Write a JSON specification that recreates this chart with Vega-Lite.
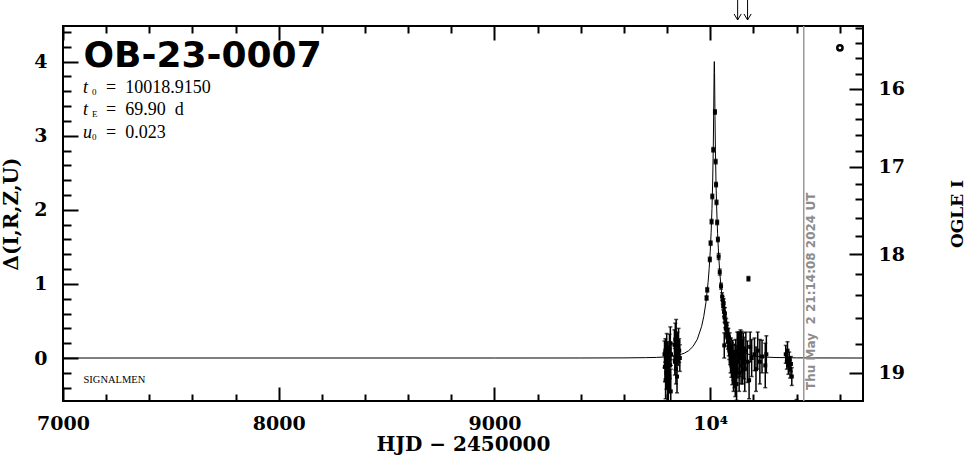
{
  "$schema": "https://vega.github.io/schema/vega-lite/v6.json",
  "width": 800,
  "height": 375,
  "autosize": "none",
  "padding": {"left": 63, "top": 26, "right": 103, "bottom": 58},
  "background": "white",
  "config": {
    "view": {"stroke": "black", "strokeWidth": 2},
    "axis": {
      "domain": false, "grid": false, "tickColor": "black", "tickWidth": 2,
      "labelColor": "black", "titleColor": "black",
      "labelFont": "DejaVu Serif", "labelFontWeight": "bold", "labelFontSize": 19,
      "titleFont": "DejaVu Serif", "titleFontWeight": "bold", "titleFontSize": 20,
      "labelOverlap": false, "labelFlush": false, "labelBound": false
    }
  },
  "datasets": {
    "model": [
      {"t":7000,"d":0},{"t":9000,"d":0.0001},{"t":9400,"d":0.0004},{"t":9600,"d":0.0017},
      {"t":9700,"d":0.005},{"t":9750,"d":0.008},{"t":9800,"d":0.016},{"t":9850,"d":0.036},
      {"t":9880,"d":0.065},{"t":9900,"d":0.099},{"t":9920,"d":0.156},{"t":9940,"d":0.253},
      {"t":9960,"d":0.426},{"t":9970,"d":0.561},{"t":9980,"d":0.749},{"t":9990,"d":1.021},
      {"t":9995,"d":1.205},{"t":10000,"d":1.44},{"t":10004,"d":1.69},{"t":10008,"d":2.015},
      {"t":10011,"d":2.348},{"t":10014,"d":2.829},{"t":10016,"d":3.306},{"t":10017,"d":3.617},
      {"t":10018,"d":3.9},{"t":10018.9,"d":4.0},{"t":10020,"d":3.85},{"t":10021,"d":3.561},
      {"t":10022,"d":3.259},{"t":10024,"d":2.796},{"t":10027,"d":2.327},{"t":10030,"d":1.998},
      {"t":10034,"d":1.678},{"t":10039,"d":1.384},{"t":10044,"d":1.161},{"t":10050,"d":0.954},
      {"t":10060,"d":0.704},{"t":10070,"d":0.529},{"t":10080,"d":0.402},{"t":10100,"d":0.24},
      {"t":10120,"d":0.148},{"t":10150,"d":0.077},{"t":10200,"d":0.029},{"t":10250,"d":0.013},
      {"t":10300,"d":0.007},{"t":10400,"d":0.002},{"t":10500,"d":0.001},{"t":10708,"d":0}
    ],
    "obs": [
      {"t":9788,"d":0.05,"e":0.18},{"t":9790,"d":-0.12,"e":0.20},{"t":9792,"d":0.10,"e":0.16},
      {"t":9793,"d":-0.30,"e":0.25},{"t":9795,"d":0.02,"e":0.15},{"t":9797,"d":-0.20,"e":0.22},
      {"t":9798,"d":0.15,"e":0.18},{"t":9800,"d":-0.05,"e":0.20},{"t":9802,"d":-0.40,"e":0.28},
      {"t":9803,"d":0.08,"e":0.14},{"t":9805,"d":-0.15,"e":0.18},{"t":9806,"d":-0.35,"e":0.25},
      {"t":9808,"d":0.00,"e":0.16},{"t":9810,"d":-0.25,"e":0.22},{"t":9811,"d":0.12,"e":0.20},
      {"t":9813,"d":-0.10,"e":0.18},{"t":9815,"d":0.20,"e":0.22},{"t":9817,"d":-0.45,"e":0.30},
      {"t":9818,"d":0.05,"e":0.15},{"t":9834,"d":0.18,"e":0.20},{"t":9836,"d":-0.05,"e":0.18},
      {"t":9838,"d":0.25,"e":0.22},{"t":9839,"d":0.00,"e":0.16},{"t":9841,"d":-0.15,"e":0.20},
      {"t":9842,"d":0.30,"e":0.22},{"t":9844,"d":0.10,"e":0.18},{"t":9846,"d":-0.25,"e":0.22},
      {"t":9848,"d":0.15,"e":0.20},{"t":9851,"d":0.05,"e":0.15},{"t":9853,"d":0.22,"e":0.18},
      {"t":9856,"d":0.10,"e":0.16},{"t":9859,"d":0.00,"e":0.18},
      {"t":9983,"d":0.81,"e":0.03},{"t":9986,"d":0.92,"e":0.03},{"t":9998,"d":1.33,"e":0.03},
      {"t":10001.7,"d":1.55,"e":0.03},{"t":10006.2,"d":1.84,"e":0.03},{"t":10009.5,"d":2.18,"e":0.03},
      {"t":10014,"d":2.81,"e":0.03},{"t":10021.8,"d":3.32,"e":0.03},{"t":10025,"d":2.65,"e":0.03},
      {"t":10027,"d":2.34,"e":0.03},{"t":10029,"d":2.10,"e":0.03},{"t":10032,"d":1.83,"e":0.03},
      {"t":10035.5,"d":1.60,"e":0.03},{"t":10039,"d":1.37,"e":0.04},{"t":10044,"d":1.16,"e":0.04},
      {"t":10050,"d":0.97,"e":0.04},{"t":10055,"d":0.83,"e":0.05},
      {"t":10058,"d":0.78,"e":0.05},{"t":10060,"d":0.70,"e":0.05},{"t":10062,"d":0.74,"e":0.06},
      {"t":10064,"d":0.62,"e":0.06},{"t":10065,"d":0.17,"e":0.17},{"t":10066,"d":0.55,"e":0.07},
      {"t":10068,"d":0.60,"e":0.08},{"t":10070,"d":0.48,"e":0.07},{"t":10072,"d":0.40,"e":0.08},
      {"t":10074,"d":0.45,"e":0.08},{"t":10076,"d":0.35,"e":0.09},{"t":10078,"d":0.30,"e":0.10},
      {"t":10080,"d":0.38,"e":0.10},{"t":10082,"d":0.22,"e":0.10},{"t":10084,"d":0.28,"e":0.12},
      {"t":10086,"d":0.15,"e":0.12},{"t":10088,"d":0.10,"e":0.12},{"t":10090,"d":0.20,"e":0.14},
      {"t":10092,"d":0.05,"e":0.14},{"t":10094,"d":-0.05,"e":0.15},{"t":10096,"d":0.12,"e":0.15},
      {"t":10098,"d":-0.10,"e":0.16},{"t":10100,"d":0.02,"e":0.15},{"t":10102,"d":-0.18,"e":0.18},
      {"t":10104,"d":0.08,"e":0.16},{"t":10106,"d":-0.12,"e":0.18},{"t":10108,"d":-0.25,"e":0.20},
      {"t":10110,"d":0.00,"e":0.18},{"t":10112,"d":-0.20,"e":0.20},{"t":10114,"d":-0.08,"e":0.18},
      {"t":10116,"d":-0.30,"e":0.22},{"t":10118,"d":0.05,"e":0.20},{"t":10120,"d":-0.15,"e":0.22},
      {"t":10122,"d":-0.35,"e":0.22},{"t":10125,"d":0.10,"e":0.25},{"t":10128,"d":-0.05,"e":0.22},
      {"t":10131,"d":0.15,"e":0.20},{"t":10134,"d":-0.20,"e":0.25},{"t":10137,"d":0.05,"e":0.30},
      {"t":10140,"d":0.18,"e":0.20},{"t":10143,"d":-0.10,"e":0.25},{"t":10146,"d":0.08,"e":0.28},
      {"t":10150,"d":-0.05,"e":0.30},{"t":10153,"d":0.12,"e":0.22},{"t":10156,"d":0.00,"e":0.28},
      {"t":10160,"d":-0.15,"e":0.30},{"t":10165,"d":0.10,"e":0.25},{"t":10172,"d":-0.05,"e":0.28},
      {"t":10177,"d":1.07,"e":0.03},{"t":10180,"d":-0.30,"e":0.25},{"t":10185,"d":0.15,"e":0.20},
      {"t":10192,"d":0.00,"e":0.25},{"t":10205,"d":0.05,"e":0.22},{"t":10212,"d":-0.15,"e":0.30},
      {"t":10220,"d":0.10,"e":0.25},{"t":10230,"d":-0.05,"e":0.30},{"t":10240,"d":0.02,"e":0.22},
      {"t":10255,"d":-0.10,"e":0.30},{"t":10260,"d":0.05,"e":0.25},
      {"t":10350,"d":0.05,"e":0.12},{"t":10355,"d":-0.05,"e":0.10},{"t":10358,"d":0.10,"e":0.12},
      {"t":10362,"d":-0.10,"e":0.12},{"t":10366,"d":0.00,"e":0.08},{"t":10370,"d":-0.15,"e":0.12},
      {"t":10374,"d":-0.08,"e":0.10},{"t":10378,"d":-0.25,"e":0.12},{"t":10400,"d":-0.66,"e":0.10}
    ],
    "notes": [
      {"k":"title","t":7095,"d":3.933,"txt":"OB-23-0007"},
      {"k":"var","t":7093,"d":3.574,"txt":"t"},
      {"k":"var","t":7093,"d":3.281,"txt":"t"},
      {"k":"var","t":7093,"d":2.975,"txt":"u"},
      {"k":"sub","t":7093,"d":3.574,"txt":"0"},
      {"k":"sub","t":7093,"d":3.281,"txt":"E"},
      {"k":"sub","t":7093,"d":2.975,"txt":"0"},
      {"k":"rest","t":7093,"d":3.574,"txt":"=\u00a0\u00a010018.9150"},
      {"k":"rest","t":7093,"d":3.281,"txt":"=\u00a0\u00a069.90\u00a0\u00a0d"},
      {"k":"rest","t":7093,"d":2.975,"txt":"=\u00a0\u00a00.023"},
      {"k":"signal","t":7095,"d":-0.337,"txt":"SIGNALMEN"},
      {"k":"date","t":10467,"d":-0.43,"txt":"Thu May\u00a0\u00a02 21:14:08 2024 UT"},
      {"k":"arrow","t":10127,"d":4.562},
      {"k":"arrow","t":10173,"d":4.562},
      {"k":"now","t":10433.4,"d":-0.58},
      {"k":"circ","t":10601,"d":4.185}
    ]
  },
  "layer": [
    {
      "encoding": {
        "x": {"field": "t", "type": "quantitative",
          "scale": {"domain": [7000, 10708], "nice": false, "zero": false},
          "axis": {
            "orient": "bottom",
            "values": [7000,7200,7400,7600,7800,8000,8200,8400,8600,8800,9000,9200,9400,9600,9800,10000,10200,10400,10600],
            "labelExpr": "datum.value == 10000 ? '10⁴' : (datum.value % 1000 == 0 ? '' + datum.value : '')",
            "tickSize": {"condition": {"test": "datum.value % 1000 == 0", "value": -14}, "value": -7},
            "labelPadding": 27,
            "title": "HJD \u2212 2450000",
            "titlePadding": -6
          }},
        "y": {"field": "d", "type": "quantitative",
          "scale": {"domain": [-0.58, 4.48], "nice": false, "zero": false},
          "axis": {
            "orient": "left",
            "values": [-0.4,-0.2,0,0.2,0.4,0.6,0.8,1,1.2,1.4,1.6,1.8,2,2.2,2.4,2.6,2.8,3,3.2,3.4,3.6,3.8,4,4.2,4.4],
            "labelExpr": "abs(datum.value - round(datum.value)) < 0.001 ? '' + round(datum.value) : ''",
            "tickSize": {"condition": {"test": "abs(datum.value - round(datum.value)) < 0.001", "value": -15}, "value": -8},
            "labelPadding": 31,
            "title": "\u0394(I,R,Z,U)",
            "titlePadding": 12
          }}
      },
      "layer": [
        {
          "data": {"name": "model"},
          "mark": {"type": "line", "color": "black", "strokeWidth": 1, "clip": true}
        },
        {
          "data": {"name": "notes"},
          "transform": [{"filter": "datum.k == 'now'"}],
          "mark": {"type": "rule", "color": "#999999", "strokeWidth": 1.5},
          "encoding": {"y2": {"datum": 4.48}}
        },
        {
          "data": {"name": "obs"},
          "mark": {"type": "errorbar", "ticks": true, "size": 4, "thickness": 1.5, "color": "black", "clip": true},
          "encoding": {"yError": {"field": "e"}}
        },
        {
          "data": {"name": "obs"},
          "mark": {"type": "point", "shape": "square", "filled": true, "size": 16, "color": "black", "opacity": 1, "clip": true}
        },
        {
          "data": {"name": "notes"},
          "transform": [{"filter": "datum.k == 'title'"}],
          "mark": {"type": "text", "align": "left", "baseline": "alphabetic", "font": "DejaVu Sans", "fontWeight": "bold", "fontSize": 36, "color": "black"},
          "encoding": {"text": {"field": "txt"}}
        },
        {
          "data": {"name": "notes"},
          "transform": [{"filter": "datum.k == 'var'"}],
          "mark": {"type": "text", "align": "left", "baseline": "alphabetic", "font": "Liberation Serif", "fontStyle": "italic", "fontSize": 18, "color": "black"},
          "encoding": {"text": {"field": "txt"}}
        },
        {
          "data": {"name": "notes"},
          "transform": [{"filter": "datum.k == 'sub'"}],
          "mark": {"type": "text", "align": "left", "baseline": "alphabetic", "font": "Liberation Serif", "fontSize": 9, "dx": 9, "dy": 2, "color": "black"},
          "encoding": {"text": {"field": "txt"}}
        },
        {
          "data": {"name": "notes"},
          "transform": [{"filter": "datum.k == 'rest'"}],
          "mark": {"type": "text", "align": "left", "baseline": "alphabetic", "font": "Liberation Serif", "fontSize": 18, "dx": 23, "color": "black"},
          "encoding": {"text": {"field": "txt"}}
        },
        {
          "data": {"name": "notes"},
          "transform": [{"filter": "datum.k == 'signal'"}],
          "mark": {"type": "text", "align": "left", "baseline": "alphabetic", "font": "Liberation Serif", "fontSize": 10.5, "color": "black"},
          "encoding": {"text": {"field": "txt"}}
        },
        {
          "data": {"name": "notes"},
          "transform": [{"filter": "datum.k == 'date'"}],
          "mark": {"type": "text", "align": "left", "baseline": "middle", "angle": 270, "font": "DejaVu Sans", "fontWeight": "bold", "fontSize": 12, "color": "#8c8c8c"},
          "encoding": {"text": {"field": "txt"}}
        },
        {
          "data": {"name": "notes"},
          "transform": [{"filter": "datum.k == 'arrow'"}],
          "mark": {"type": "rule", "color": "black", "strokeWidth": 1},
          "encoding": {"y2": {"datum": 4.83}}
        },
        {
          "data": {"name": "notes"},
          "transform": [{"filter": "datum.k == 'arrow'"}],
          "mark": {"type": "point", "shape": "M -0.6 -1 L 0 0 L 0.6 -1", "filled": false, "size": 144, "strokeWidth": 1, "color": "black", "opacity": 1}
        }
      ]
    },
    {
      "data": {"name": "notes"},
      "transform": [{"filter": "datum.k == 'circ'"}],
      "mark": {"type": "point", "shape": "circle", "filled": false, "size": 28, "strokeWidth": 2.5, "color": "black", "opacity": 1},
      "encoding": {
        "x": {"field": "t", "type": "quantitative",
          "scale": {"domain": [7000, 10708], "nice": false, "zero": false},
          "axis": {
            "orient": "top",
            "values": [7000,7200,7400,7600,7800,8000,8200,8400,8600,8800,9000,9200,9400,9600,9800,10000,10200,10400,10600],
            "labels": false,
            "tickSize": {"condition": {"test": "datum.value % 1000 == 0", "value": -14}, "value": -7},
            "title": null
          }},
        "y": {"field": "d", "type": "quantitative",
          "scale": {"domain": [-0.58, 4.48], "nice": false, "zero": false},
          "axis": {
            "orient": "right",
            "values": [4.457,4.256,4.045,3.834,3.636,3.43,3.221,3.012,2.8,2.584,2.353,2.14,1.89,1.652,1.401,1.14,0.849,0.543,0.195,-0.198],
            "labelExpr": "abs(datum.value-3.636)<0.001 ? '16' : abs(datum.value-2.584)<0.001 ? '17' : abs(datum.value-1.401)<0.001 ? '18' : abs(datum.value+0.198)<0.001 ? '19' : ''",
            "tickSize": {"condition": {"test": "abs(datum.value-3.636)<0.001 || abs(datum.value-2.584)<0.001 || abs(datum.value-1.401)<0.001 || abs(datum.value+0.198)<0.001", "value": -14}, "value": -8},
            "labelPadding": 29,
            "title": "OGLE I",
            "titleAngle": 270,
            "titleFontSize": 17,
            "titlePadding": 62
          }}
      }
    }
  ],
  "resolve": {"scale": {"x": "independent", "y": "independent"}}
}
